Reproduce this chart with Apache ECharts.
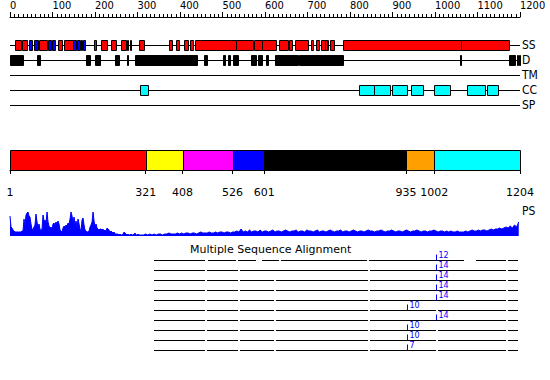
<!DOCTYPE html>
<html><head><meta charset="utf-8">
<script src="https://cdn.jsdelivr.net/npm/echarts@6/dist/echarts.min.js"></script>
<style>html,body{margin:0;padding:0;background:#fff}#c{width:550px;height:380px}</style>
</head><body><div id="c"></div>
<script>
// ---------- data ----------
const seqLength = 1204;
const rulerMax = 1200;
const rulerStep = 100;
const rowNames = ['SS', 'D', 'TM', 'CC', 'SP'];
const ssHelix = [[13,26],[30,40],[70,88],[114,123],[129,149],[198,204],[216,229],[239,250],[262,275],[276,280],[283,287],[305,316],[377,384],[393,400],[412,420],[426,432],[438,534],[534,574],[577,595],[596,629],[635,656],[659,666],[674,703],[710,716],[723,730],[735,743],[743,748],[748,751],[757,765],[786,1064],[1065,1179]];
const ssStrand = [[46,54],[57,66],[91,98],[99,106],[149,157],[158,165],[169,172],[174,179]];
const disorder = [[1,31],[64,72],[180,190],[202,213],[249,258],[277,280],[296,442],[459,466],[503,508],[515,521],[528,538],[570,582],[586,596],[604,610],[625,651],[652,680],[683,786],[1063,1066],[1179,1192],[1196,1200],[1201,1204]];
const transmembrane = [];
const coiledCoil = [[308,327],[825,859],[859,898],[901,938],[948,975],[1002,1038],[1078,1121],[1125,1152]];
const signalPeptide = [];
const domainBounds = [1,321,408,526,601,935,1002,1204];
const psLabel = 'PS';
// PS profile, N-terminal part read at ~2.36 residues per sample
const psHeadStart = 1, psHeadStep = 2.36;
const psHead = [20,9,8,6,5,4,4,4,4,4, 4,4,5,5,17,10,21,23,24,20, 19,12,7,6,9,11,22,14,9,12, 7,5,7,21,15,16,13,24,14,10,
  8,9,7,12,13,11,14,12,15,12, 6,5,4,8,10,9,11,10,13,12, 17,24,20,14,19,11,15,9,17,12, 7,5,16,18,11,6,5,4,4,5,
  9,11,14,24,15,10,12,8,7,6, 7,7,6,7,5,6,5,8,7,6, 4,5,4,3,4,2,2,2,2,1, 2,1,1,2,4,3,2,1,2,1, 1,2,1,1,2,3,1,1,2,1,1];
// rest of the profile read every 5 residues
const psTailStart = 311, psTailStep = 5;
const psTail = [1,1,2,1,2,1,2,1,2,2,1,2,2,3,2,2,2,3,2,3,2,3,3,2,3,3,2,3,4,3,3,3,4,3,3,4,3,4,4,3,4,4,3,4,4,5,4,7,4,5,4,6,4,5,5,4,6,4,5,5,4,5,6,4,5,5,4,5,6,5,4,5,5,6,4,5,5,4,6,5,5,4,5,6,4,5,5,4,5,6,5,4,5,5,6,4,5,5,4,5,6,5,4,5,5,4,5,6,5,5,4,5,5,6,5,4,5,5,6,5,4,5,5,4,5,6,5,4,5,5,6,5,4,5,5,4,5,5,6,5,4,5,5,4,5,4,5,4,4,5,4,4,4,5,4,5,6,5,5,6,5,6,6,5,6,7,6,7,7,8,7,8,9,8,10,8,11,9,14];
const msaTitle = 'Multiple Sequence Alignment';
const msaStart = 339, msaEnd = 1200;
const msaGaps = [
  [[463,466],[536,538],[583,595],[637,639],[845,847],[1073,1099],[1172,1174]],
  [[463,465],[540,542],[846,848],[1172,1174]],
  [[463,465],[540,542],[626,628],[846,848],[1172,1174]],
  [[463,465],[540,542],[626,628],[846,848],[1172,1174]],
  [[463,465],[540,542],[626,628],[846,848],[1172,1174]],
  [[463,465],[540,542],[626,628],[846,848],[1008,1010],[1172,1174]],
  [[463,465],[540,542],[626,628],[846,848],[1172,1174]],
  [[463,465],[540,542],[626,628],[846,848],[1008,1010],[1172,1174]],
  [[463,465],[540,542],[626,628],[846,848],[1008,1010],[1172,1174]],
  [[463,465],[540,542],[626,628],[846,848],[1008,1010],[1172,1174]]
];
const msaMarkPos = [1006,1006,1006,1006,1006,937,1006,937,937,937];
const msaMarkCount = [12,14,14,14,14,10,14,10,10,7];

// ---------- styles ----------
const NARROW = "'Liberation Sans Narrow','DejaVu Sans Condensed','DejaVu Sans',sans-serif";
const FONT = "'DejaVu Sans',sans-serif";
const featColors = ['#ff0000', '#0000ff', '#000000', '#00ffff', '#ff00ff', '#ffff00'];
const domainColors = ['#ff0000', '#ffff00', '#ff00ff', '#0000ff', '#000000', '#ffa000', '#00ffff'];
const L = 10, W = 510;

const featData = []
  .concat(ssHelix.map(s => [s[0], s[1], 1, 0]))
  .concat(ssStrand.map(s => [s[0], s[1], 1, 1]))
  .concat(disorder.map(s => [s[0], s[1], 2, 2]))
  .concat(transmembrane.map(s => [s[0], s[1], 3, 5]))
  .concat(coiledCoil.map(s => [s[0], s[1], 4, 3]))
  .concat(signalPeptide.map(s => [s[0], s[1], 5, 4]));
const domainData = [];
for (let i = 0; i < domainBounds.length - 1; i++) domainData.push([domainBounds[i], domainBounds[i + 1], i]);
const psData = psHead.map((v, i) => [psHeadStart + i * psHeadStep, v])
  .concat(psTail.map((v, i) => [psTailStart + i * psTailStep, v]));
const msaData = msaMarkPos.map((p, i) => [i, p, msaMarkCount[i]]);

function hiddenX(g) { return { gridIndex: g, type: 'value', min: 1, max: seqLength, show: false }; }

const chart = echarts.init(document.getElementById('c'), null, { renderer: 'svg' });
chart.setOption({
  animation: false,
  backgroundColor: '#fff',
  title: { text: msaTitle, left: 190, top: 244, padding: 0,
    textStyle: { fontSize: 11, fontWeight: 'normal', fontFamily: FONT, color: '#000' } },
  grid: [
    { left: L, width: W, top: 16, height: 1 },
    { left: L, width: W, top: 30, height: 90 },
    { left: L, width: W, top: 150, height: 20 },
    { left: L, width: W, top: 212, height: 24 },
    { left: L, width: W, top: 250, height: 110 }
  ],
  xAxis: [
    { gridIndex: 0, type: 'value', position: 'top', min: 0, max: rulerMax, interval: rulerStep,
      axisLine: { lineStyle: { color: '#000', width: 1 } },
      axisTick: { length: 5, lineStyle: { color: '#000' } },
      minorTick: { show: true, splitNumber: 10, length: 3, lineStyle: { color: '#000' } },
      splitLine: { show: false },
      axisLabel: { align: 'left', margin: 5, fontSize: 11, color: '#000', fontFamily: NARROW,
        showMinLabel: true, showMaxLabel: true, formatter: v => String(v) } },
    hiddenX(1),
    { gridIndex: 2, type: 'value', position: 'bottom', offset: 10, min: 1, max: seqLength,
      axisLine: { lineStyle: { color: '#000', width: 1 } },
      axisTick: { length: 4, customValues: domainBounds, lineStyle: { color: '#000' } },
      splitLine: { show: false },
      axisLabel: { customValues: domainBounds, margin: 7, fontSize: 11, color: '#000', fontFamily: FONT,
        formatter: v => String(v) } },
    hiddenX(3),
    hiddenX(4)
  ],
  yAxis: [
    { gridIndex: 0, type: 'value', show: false },
    { gridIndex: 1, type: 'value', position: 'right', min: 0, max: 6, interval: 1, inverse: true,
      axisLine: { show: false }, axisTick: { show: false }, splitLine: { show: false },
      axisLabel: { margin: 2, fontSize: 12, color: '#000', fontFamily: NARROW,
        formatter: v => rowNames[v - 1] || '' } },
    { gridIndex: 2, type: 'value', min: 0, max: 1, show: false },
    { gridIndex: 3, type: 'value', min: 0, max: 24, show: false },
    { gridIndex: 4, type: 'value', min: 0, max: 11, inverse: true, show: false }
  ],
  graphic: [
    { type: 'text', left: 522, top: 205, style: { text: psLabel, fontSize: 12, fontFamily: NARROW, fill: '#000' } }
  ],
  series: [
    { type: 'custom', xAxisIndex: 1, yAxisIndex: 1, data: rowNames.map((n, i) => [i + 1]),
      renderItem: (p, api) => {
        const r = api.value(0);
        const a = api.coord([1, r]), b = api.coord([seqLength, r]);
        const y = Math.round(a[1]) + 0.5;
        return { type: 'line', shape: { x1: a[0], y1: y, x2: b[0], y2: y }, style: { stroke: '#000', lineWidth: 1 } };
      } },
    { type: 'custom', xAxisIndex: 1, yAxisIndex: 1, data: featData, encode: { x: [0, 1], y: 2 },
      renderItem: (p, api) => {
        const s = api.coord([api.value(0), api.value(2)]);
        const e = api.coord([api.value(1), api.value(2)]);
        const x1 = Math.round(s[0]) + 0.5, x2 = Math.round(e[0]) + 0.5;
        const y = Math.round(s[1]);
        return { type: 'rect', shape: { x: x1, y: y - 4.5, width: Math.max(x2 - x1, 1), height: 10 },
          style: { fill: featColors[api.value(3)], stroke: '#000', lineWidth: 1 } };
      } },
    { type: 'custom', xAxisIndex: 2, yAxisIndex: 2, data: domainData, encode: { x: [0, 1] },
      renderItem: (p, api) => {
        const s = api.coord([api.value(0), 1]);
        const e = api.coord([api.value(1), 0]);
        const x1 = Math.round(s[0]) + 0.5, x2 = Math.round(e[0]) + 0.5;
        const y1 = Math.round(s[1]) + 0.5, y2 = Math.round(e[1]) + 0.5;
        return { type: 'rect', shape: { x: x1, y: y1, width: x2 - x1, height: y2 - y1 },
          style: { fill: domainColors[api.value(2)], stroke: '#000', lineWidth: 1 } };
      } },
    { type: 'line', xAxisIndex: 3, yAxisIndex: 3, data: psData, showSymbol: false, symbol: 'none',
      lineStyle: { color: '#0000ff', width: 1 }, areaStyle: { color: '#0000ff', opacity: 1 } },
    { type: 'custom', xAxisIndex: 4, yAxisIndex: 4, data: msaData, encode: { x: 1, y: 0 },
      renderItem: (p, api) => {
        const i = api.value(0);
        const y = Math.round(api.coord([1, i + 1])[1]) + 0.5;
        const children = [];
        let from = msaStart;
        const gaps = msaGaps[i].concat([[msaEnd, msaEnd]]);
        gaps.forEach((g, k) => {
          const a = api.coord([from, i + 1])[0], b = api.coord([g[0], i + 1])[0];
          const xa = Math.ceil(a), xb = (k === gaps.length - 1) ? Math.round(b) : Math.floor(b);
          if (xb > xa) children.push({ type: 'line', shape: { x1: xa, y1: y, x2: xb, y2: y }, style: { stroke: '#000', lineWidth: 1 } });
          from = g[1];
        });
        const mx = Math.round(api.coord([api.value(1), i + 1])[0]) + 0.5;
        children.push({ type: 'line', shape: { x1: mx, y1: y - 6, x2: mx, y2: y }, style: { stroke: '#0000ff', lineWidth: 1 } });
        children.push({ type: 'text', x: mx + 2, y: y - 1.5, style: { text: String(api.value(2)), fontSize: 8, fontFamily: FONT, fill: '#0000ff', verticalAlign: 'bottom', align: 'left' } });
        return { type: 'group', children };
      } }
  ]
});
</script></body></html>
